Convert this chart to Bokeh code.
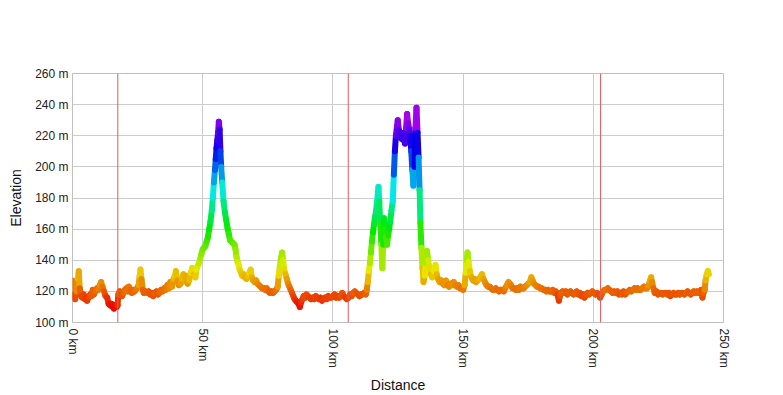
import colorsys
from bokeh.plotting import figure
from bokeh.models import Span, PrintfTickFormatter, ColumnDataSource, FixedTicker
from bokeh.embed import file_html
from bokeh.resources import INLINE

distance_km = [
    0.0, 0.5, 1.0, 1.5, 2.0, 2.4, 2.8, 3.3, 3.7, 4.3, 4.8, 5.3, 5.6, 6.2, 6.8, 7.3, 7.8, 8.2, 8.8, 9.4,
    10.0, 10.5, 11.0, 11.5, 12.1, 12.7, 13.3, 13.9, 14.5, 15.0, 15.5, 15.9, 16.4, 17.0, 17.3, 17.6, 18.1, 18.6, 19.0, 19.6,
    20.1, 20.7, 21.2, 21.6, 22.2, 22.8, 23.3, 23.8, 24.2, 24.8, 25.4, 25.8, 26.1, 26.5, 27.0, 27.4, 28.0, 28.6, 29.2, 29.8,
    30.4, 31.0, 31.6, 32.2, 32.8, 33.4, 34.0, 34.6, 35.2, 35.8, 36.4, 37.0, 37.6, 38.2, 38.8, 39.3, 39.7, 40.2, 40.8, 41.5,
    42.0, 42.6, 43.1, 43.6, 44.2, 44.8, 45.4, 46.0, 46.6, 47.2, 47.6, 48.0, 48.5, 49.0, 49.5, 50.0, 50.5, 51.0, 51.5, 52.0,
    52.5, 53.0, 53.5, 53.9, 54.3, 54.7, 55.0, 55.3, 55.6, 55.9, 56.2, 56.5, 56.8, 57.1, 57.5, 58.0, 58.5, 59.0, 59.5, 60.0,
    60.5, 61.0, 61.6, 62.2, 62.6, 63.0, 63.4, 63.8, 64.2, 64.7, 65.2, 65.7, 66.2, 66.8, 67.4, 67.9, 68.4, 68.9, 69.4, 69.9,
    70.5, 71.0, 71.6, 72.2, 72.8, 73.4, 74.0, 74.6, 75.2, 75.8, 76.4, 77.0, 77.6, 78.2, 78.8, 79.2, 79.6, 80.0, 80.5, 80.9,
    81.3, 81.8, 82.3, 82.8, 83.3, 83.8, 84.3, 84.8, 85.3, 85.8, 86.3, 86.8, 87.3, 87.8, 88.3, 88.8, 89.3, 89.8, 90.4, 91.0,
    91.6, 92.2, 92.8, 93.4, 94.0, 94.6, 95.2, 95.8, 96.4, 97.0, 97.6, 98.2, 98.8, 99.4, 100.0, 100.6, 101.2, 101.8, 102.4, 103.0,
    103.6, 104.2, 104.8, 105.4, 106.0, 106.6, 107.2, 107.8, 108.4, 109.0, 109.6, 110.2, 110.8, 111.4, 112.0, 112.6, 113.0, 113.4, 113.8, 114.2,
    114.6, 115.0, 115.4, 115.8, 116.2, 116.6, 117.0, 117.5, 117.8, 118.2, 118.6, 119.0, 119.3, 119.6, 120.0, 120.4, 120.8, 121.2, 121.6, 122.0,
    122.5, 123.0, 123.4, 123.8, 124.2, 124.6, 124.9, 125.3, 125.7, 126.1, 126.5, 126.9, 127.3, 127.7, 128.1, 128.5, 128.9, 129.3, 129.7, 130.1,
    130.5, 130.9, 131.3, 131.7, 132.1, 132.5, 132.9, 133.3, 133.6, 134.0, 134.4, 134.8, 135.2, 135.6, 136.1, 136.6, 137.1, 137.6, 138.2, 138.8,
    139.4, 139.9, 140.4, 141.0, 141.6, 142.2, 142.8, 143.4, 144.0, 144.6, 145.2, 145.8, 146.4, 147.0, 147.6, 148.2, 148.8, 149.4, 150.0, 150.6,
    151.0, 151.4, 151.7, 152.1, 152.6, 153.2, 153.8, 154.4, 155.0, 155.6, 156.2, 156.8, 157.3, 157.8, 158.4, 159.0, 159.6, 160.2, 160.8, 161.4,
    162.0, 162.6, 163.2, 163.8, 164.4, 165.0, 165.6, 166.2, 166.8, 167.4, 168.0, 168.4, 169.0, 169.6, 170.2, 170.8, 171.4, 172.0, 172.6, 173.2,
    173.8, 174.4, 175.0, 175.6, 176.2, 176.7, 177.2, 177.8, 178.4, 179.0, 179.6, 180.2, 180.8, 181.4, 182.0, 182.6, 183.2, 183.8, 184.4, 185.0,
    185.6, 186.2, 186.8, 187.2, 187.6, 188.2, 188.8, 189.4, 190.0, 190.6, 191.2, 191.8, 192.4, 193.0, 193.6, 194.2, 194.8, 195.4, 196.0, 196.6,
    197.2, 197.8, 198.4, 199.0, 199.6, 200.2, 200.8, 201.4, 202.0, 202.6, 203.2, 203.8, 204.4, 205.0, 205.6, 206.2, 206.8, 207.4, 208.0, 208.6,
    209.2, 209.8, 210.4, 211.0, 211.6, 212.2, 212.8, 213.4, 214.0, 214.6, 215.2, 215.8, 216.4, 217.0, 217.6, 218.2, 218.8, 219.4, 220.0, 220.6,
    221.2, 221.8, 222.2, 222.6, 223.1, 223.6, 224.2, 224.8, 225.4, 226.0, 226.6, 227.2, 227.8, 228.4, 229.0, 229.6, 230.2, 230.8, 231.4, 232.0,
    232.6, 233.2, 233.8, 234.4, 235.0, 235.6, 236.2, 236.8, 237.4, 238.0, 238.6, 239.2, 239.8, 240.4, 241.0, 241.5, 241.9, 242.3, 242.8, 243.1,
    243.6, 244.0, 244.4,
]

elevation_m = [
    127, 118, 115, 120, 128, 133, 122, 117, 116, 118, 115, 116, 114, 116, 118, 117, 121, 118, 120, 122,
    121, 124, 126, 123, 120, 117, 116, 112, 111, 112, 110, 109, 111, 110, 111, 118, 120, 118, 117, 119,
    121, 122, 120, 123, 121, 119, 121, 120, 121, 122, 124, 130, 134, 128, 121, 119, 120, 119, 120, 118,
    119, 117, 119, 120, 118, 119, 121, 120, 122, 121, 124, 122, 126, 123, 128, 130, 133, 127, 124, 125,
    128, 131, 127, 130, 125, 127, 132, 135, 131, 129, 134, 136, 138, 141, 144, 147, 148, 149, 152, 155,
    160, 165, 172, 180, 190, 198, 205, 212, 217, 222, 229, 224, 210, 200, 190, 178, 171, 166, 161, 157,
    153, 152, 151, 150, 147, 142, 139, 137, 134, 132, 130, 131, 129, 128, 130, 132, 134, 129, 127, 126,
    127, 125, 124, 123, 122, 122, 121, 122, 120, 119, 120, 119, 120, 121, 123, 130, 136, 141, 145, 140,
    134, 131, 128, 125, 123, 121, 119, 117, 115, 114, 113, 112, 110, 113, 115, 117, 116, 118, 117, 116,
    115, 116, 115, 117, 116, 115, 116, 114, 115, 116, 115, 117, 116, 116, 117, 118, 116, 117, 116, 117,
    119, 117, 116, 115, 116, 118, 117, 119, 120, 119, 118, 117, 118, 118, 119, 118, 121, 126, 133, 138,
    145, 152, 158, 163, 168, 172, 178, 187, 178, 163, 150, 135, 150, 167, 160, 155, 150, 156, 160, 165,
    172, 178, 195, 210, 220, 226, 230, 224, 219, 222, 218, 220, 217, 215, 225, 234, 228, 224, 220, 210,
    198, 188, 200, 225, 238, 222, 206, 185, 164, 148, 135, 126, 130, 138, 146, 140, 135, 131, 129, 133,
    137, 131, 128, 126, 127, 125, 124, 127, 124, 123, 125, 124, 126, 124, 123, 124, 122, 122, 121, 124,
    132, 140, 145, 139, 133, 129, 127, 128, 126, 127, 128, 130, 131, 128, 126, 124, 123, 123, 122, 121,
    121, 122, 121, 120, 121, 121, 120, 122, 124, 126, 125, 124, 122, 122, 121, 122, 121, 123, 122, 122,
    123, 124, 125, 126, 129, 127, 125, 124, 123, 123, 122, 122, 121, 121, 120, 121, 120, 120, 121, 119,
    120, 118, 114, 117, 119, 120, 119, 120, 118, 119, 120, 119, 118, 119, 120, 118, 119, 117, 118, 116,
    118, 119, 118, 119, 120, 119, 118, 119, 118, 116, 118, 120, 121, 121, 122, 121, 120, 119, 120, 119,
    120, 118, 119, 118, 120, 118, 119, 120, 121, 120, 121, 122, 121, 122, 121, 121, 122, 123, 122, 122,
    124, 127, 129, 126, 122, 119, 120, 118, 119, 119, 118, 119, 119, 118, 119, 117, 118, 119, 118, 118,
    119, 118, 119, 119, 118, 119, 120, 119, 118, 119, 120, 119, 120, 119, 120, 121, 116, 119, 121, 127,
    131, 133, 131,
]

marker_km = [17.4, 105.9, 202.8]

x_ticks = [0, 50, 100, 150, 200, 250]
y_ticks = [100, 120, 140, 160, 180, 200, 220, 240, 260]

# colour each segment by elevation (hue red -> magenta)
lo, hi = min(elevation_m), max(elevation_m)
x0, y0, x1, y1, cols = [], [], [], [], []
for i in range(len(distance_km) - 1):
    x0.append(distance_km[i]); y0.append(elevation_m[i])
    x1.append(distance_km[i + 1]); y1.append(elevation_m[i + 1])
    e = (elevation_m[i] + elevation_m[i + 1]) / 2.0
    t = (e - lo) / (hi - lo)
    r, g, b = colorsys.hsv_to_rgb(t * 300.0 / 360.0, 1.0, 0.92)
    cols.append("#%02x%02x%02x" % (int(r * 255), int(g * 255), int(b * 255)))

src = ColumnDataSource(dict(x0=x0, y0=y0, x1=x1, y1=y1, c=cols))

p = figure(frame_width=651, frame_height=249, x_range=(0, 250), y_range=(100, 260),
           output_backend="svg", toolbar_location=None,
           min_border_left=72, min_border_top=73, min_border_right=52, min_border_bottom=60)

p.segment("x0", "y0", "x1", "y1", source=src, line_color="c", line_width=6, line_cap="round")

for m in marker_km:
    p.add_layout(Span(location=m, dimension="height", line_color="#e05a5a", line_width=1))

p.xaxis.ticker = FixedTicker(ticks=x_ticks)
p.yaxis.ticker = FixedTicker(ticks=y_ticks)
p.xaxis.formatter = PrintfTickFormatter(format="%d km")
p.yaxis.formatter = PrintfTickFormatter(format="%d m")
p.xaxis.major_label_orientation = "vertical"
p.xaxis.axis_label = "Distance"
p.yaxis.axis_label = "Elevation"

for ax in (p.xaxis, p.yaxis):
    ax.axis_line_color = None
    ax.major_tick_line_color = None
    ax.minor_tick_line_color = None
    ax.major_tick_out = 0
    ax.major_tick_in = 0
    ax.major_label_text_font = "Liberation Sans"
    ax.major_label_text_font_size = "12px"
    ax.major_label_text_color = "#222222"
    ax.axis_label_text_font = "Liberation Sans"
    ax.axis_label_text_font_size = "14px"
    ax.axis_label_text_font_style = "normal"
    ax.axis_label_text_color = "#111111"
p.yaxis.major_label_standoff = 4
p.xaxis.major_label_standoff = 6
p.yaxis.axis_label_standoff = 8
p.xaxis.axis_label_standoff = 6

p.grid.grid_line_color = "#cccccc"
p.grid.grid_line_width = 1
p.outline_line_color = "#c0c0c0"
p.background_fill_color = "white"
p.border_fill_color = "white"

open("out.html", "w").write(file_html(p, INLINE))
